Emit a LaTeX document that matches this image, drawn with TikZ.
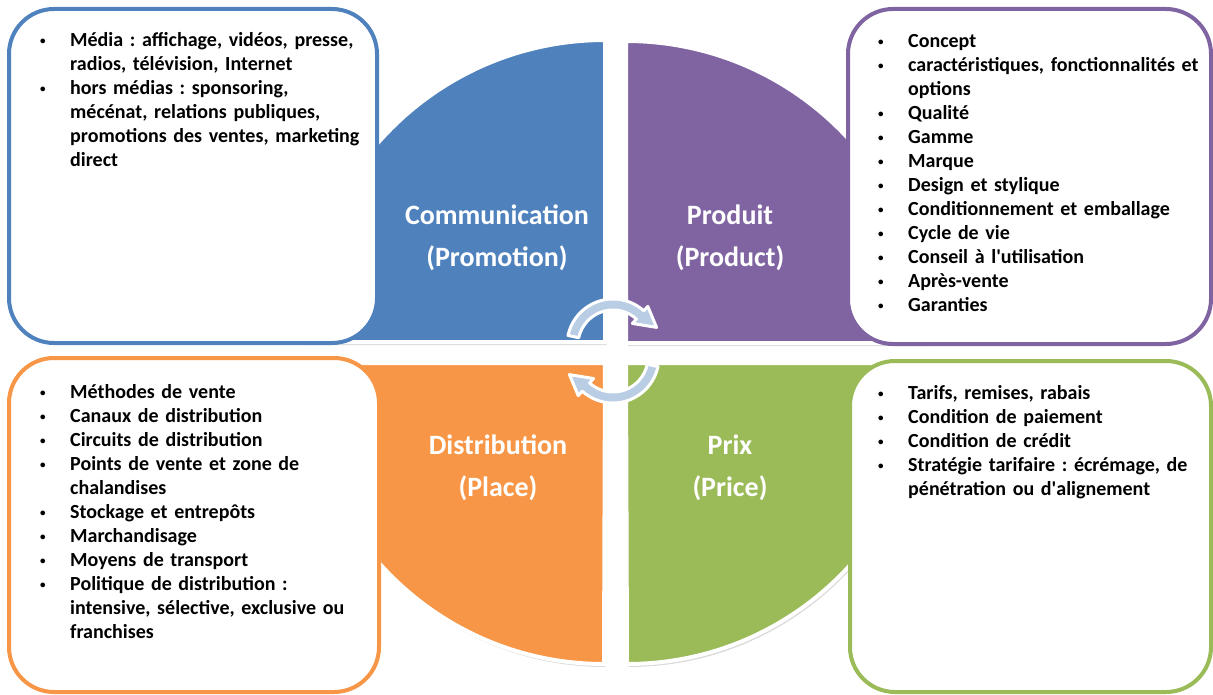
\documentclass[tikz,border=0pt]{standalone}
\usepackage{fontspec}
\setmainfont{Carlito}
\usetikzlibrary{shadows}
\definecolor{bleuq}{HTML}{4F81BD}
\definecolor{violetq}{HTML}{8064A2}
\definecolor{orangeq}{HTML}{F79646}
\definecolor{vertq}{HTML}{9BBB59}
\definecolor{flechecol}{RGB}{185,205,229}
\newcommand\premiere{\noindent\hangindent=31pt\hangafter=1%
  \makebox[31pt][l]{\hspace{1pt}\raisebox{2pt}{\fontsize{11}{11}\selectfont\textbullet}}}
\newcommand\puce{\par\premiere}
\tikzset{
  quartier/.style={fill=#1, draw=white, line width=4pt,
    drop shadow={shadow xshift=1.5pt, shadow yshift=-3pt, opacity=0.3}},
  cadre/.style={draw=#1, fill=white, line width=4pt, rounded corners=45pt},
  titre/.style={text=white, font=\bfseries\fontsize{28}{42}\selectfont, align=center, anchor=base},
  liste/.style={anchor=base west, text width=360pt, inner sep=0pt, align=left,
    font=\bfseries\fontsize{20}{24}\selectfont\frenchspacing}
}
\begin{document}
\begin{tikzpicture}[x=1pt,y=-1pt]
            \useasboundingbox (0,0) rectangle (1213,695);
            \filldraw[quartier=bleuq]
                (605,342) -- ++(-302,0) arc[start angle=180,end angle=270,radius=302] -- cycle;
            \filldraw[quartier=violetq]
                (626,343) -- ++(0,-302) arc[start angle=270,end angle=360,radius=302] -- cycle;
            \filldraw[quartier=orangeq]
                (605,363) -- ++(-302,0) arc[start angle=180,end angle=90,radius=301] -- cycle;
            \filldraw[quartier=vertq]
                (626,363) -- ++(302,0) arc[start angle=0,end angle=90,radius=301] -- cycle;
            \node[titre] (com)  at (497,266) {Communication\\(Promotion)};
            \node[titre] (prod) at (730,266) {Produit\\(Product)};
            \node[titre] (dist) at (498,496) {Distribution\\(Place)};
            \node[titre] (prix) at (730,496) {Prix\\(Price)};
            \begin{scope}[shift={(613,345)}]
                \filldraw[fill=flechecol, draw=white, line width=3pt, line join=round]
                    (-168:46) arc[start angle=-168,end angle=-48,radius=46]
                  -- (-48:52) -- (-22:47) -- (-48:29)
                  -- (-48:35) arc[start angle=-48,end angle=-168,radius=35] -- cycle;
            \end{scope}
            \begin{scope}[shift={(613,357)}]
                \filldraw[fill=flechecol, draw=white, line width=3pt, line join=round]
                    (12:46) arc[start angle=12,end angle=132,radius=46]
                  -- (132:52) -- (158:47) -- (132:29)
                  -- (132:35) arc[start angle=132,end angle=12,radius=35] -- cycle;
            \end{scope}
            \draw[cadre=bleuq]   (9,9)     rectangle (377,343);
            \draw[cadre=violetq] (848,9)   rectangle (1211,344);
            \draw[cadre=orangeq] (9,358)   rectangle (379,692);
            \draw[cadre=vertq]   (850,361) rectangle (1211,692);
            \node[liste] (promo) at (39,47) {\premiere Média : affichage, vidéos, presse,\newline
                radios, télévision, Internet
                \puce hors médias : sponsoring,\newline mécénat, relations publiques,\newline
                promotions des ventes, marketing\newline direct\par};
            \node[liste] (produit) at (877,48) {\premiere Concept
                \puce caractéristiques, fonctionnalités et\newline options
                \puce Qualité \puce Gamme \puce Marque \puce Design et stylique
                \puce Conditionnement et emballage \puce Cycle de vie
                \puce Conseil à l\textquotesingle utilisation \puce Après-vente \puce Garanties\par};
            \node[liste] (place) at (39,398) {\premiere Méthodes de vente
                \puce Canaux de distribution \puce Circuits de distribution
                \puce Points de vente et zone de\newline chalandises
                \puce Stockage et entrepôts \puce Marchandisage \puce Moyens de transport
                \puce Politique de distribution :\newline intensive, sélective, exclusive ou\newline franchises\par};
            \node[liste] (tarif) at (877,399) {\premiere Tarifs, remises, rabais
                \puce Condition de paiement \puce Condition de crédit
                \puce Stratégie tarifaire : écrémage, de\newline pénétration ou d\textquotesingle alignement\par};
\end{tikzpicture}
\end{document}
